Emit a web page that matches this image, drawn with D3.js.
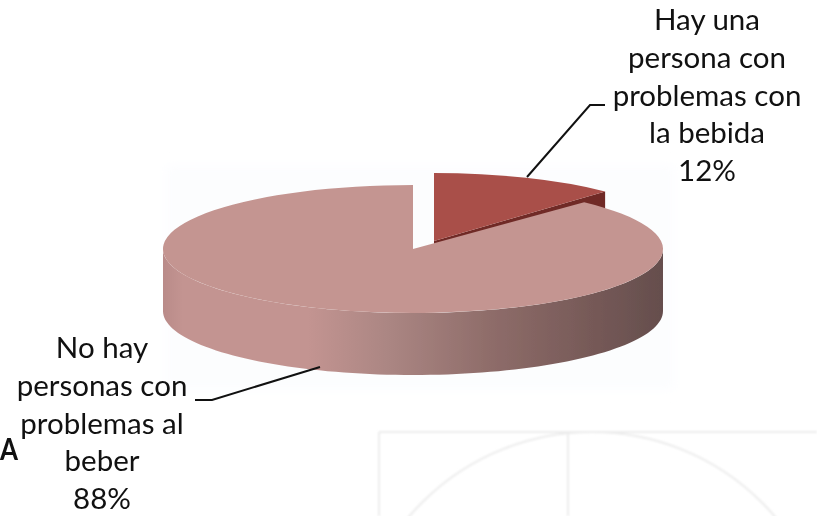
<!DOCTYPE html>
<html>
<head>
<meta charset="utf-8">
<script src="https://cdn.jsdelivr.net/npm/d3@7"></script>
<style>
html, body { margin: 0; padding: 0; background: #fff; }
svg { display: block; }
text { font-family: Lato, "Open Sans", sans-serif; fill: #111; }
</style>
</head>
<body>
<div id="chart"></div>
<script>
const categories = ["Hay una persona con problemas con la bebida", "No hay personas con problemas al beber"];
const values = [12, 88];
const labelLines = [
    ["Hay una", "persona con", "problemas con", "la bebida", "12%"],
    ["No hay", "personas con", "problemas al", "beber", "88%"]
];
const topColors = ["#a94f49", "#c49591"];
const wallColors = ["#6f2b27", "#c49591"];
// sombreado de la pared del sector grande, de izquierda a derecha
const wallStops = [
    [0, "#b98b89"], [0.04, "#c39491"], [0.29, "#c39491"], [0.45, "#ab8683"],
    [0.65, "#8f6d6a"], [0.85, "#775a58"], [1, "#654e4d"]
];

const width = 817, height = 516;
const rx = 250, depth = 62;
const centers = [
    { x: 434, y: 241, ry: 68 },
    { x: 413, y: 249, ry: 64 }
];

const svg = d3.select("#chart").append("svg")
    .attr("width", width)
    .attr("height", height);

const defs = svg.append("defs");
defs.append("filter").attr("id", "soft")
    .append("feGaussianBlur").attr("stdDeviation", 0.7);
defs.append("filter").attr("id", "softer")
    .append("feGaussianBlur").attr("stdDeviation", 1);
defs.append("filter").attr("id", "halo")
    .append("feGaussianBlur").attr("stdDeviation", 6);

// halo claro de la imagen pegada
svg.append("rect")
    .attr("x", 165).attr("y", 165)
    .attr("width", 510).attr("height", 225)
    .attr("fill", "#fcfdfe")
    .attr("filter", "url(#halo)");

// marca de agua de fondo
const wm = svg.append("g")
    .attr("fill", "none")
    .attr("stroke", "#ececec")
    .attr("stroke-width", 2)
    .attr("filter", "url(#softer)");
wm.append("line").attr("x1", 379).attr("y1", 432).attr("x2", width).attr("y2", 432);
wm.append("line").attr("x1", 379).attr("y1", 432).attr("x2", 379).attr("y2", height);
wm.append("line").attr("x1", 568).attr("y1", 432).attr("x2", 568).attr("y2", height);
wm.append("circle").attr("cx", 592).attr("cy", 672).attr("r", 240);

const grad = defs.append("linearGradient")
    .attr("id", "wall")
    .attr("gradientUnits", "userSpaceOnUse")
    .attr("x1", centers[1].x - rx).attr("x2", centers[1].x + rx)
    .attr("y1", 0).attr("y2", 0);
grad.selectAll("stop").data(wallStops).enter().append("stop")
    .attr("offset", d => d[0])
    .attr("stop-color", d => d[1]);

const slices = d3.pie().sort(null)(values);
const arc = d3.arc().innerRadius(0).outerRadius(rx);
const rimLine = d3.line();

// punto del borde de la elipse, ángulo en sentido horario desde las 12
const rimPoint = (a, c, dy) => [c.x + rx * Math.sin(a), c.y - c.ry * Math.cos(a) + dy];

const small = slices[0], big = slices[1];
const c0 = centers[0], c1 = centers[1];
const pie3d = svg.append("g").attr("filter", "url(#soft)");

// sector pequeño: primero su pared y luego la tapa
pie3d.append("path")
    .attr("d", rimLine([
        [c0.x, c0.y], rimPoint(small.endAngle, c0, 0), rimPoint(small.endAngle, c0, depth),
        [c0.x, c0.y + depth]
    ]) + "Z")
    .attr("fill", wallColors[0]);
pie3d.append("path")
    .attr("transform", `translate(${c0.x},${c0.y}) scale(1,${c0.ry / rx})`)
    .attr("d", arc(small))
    .attr("fill", topColors[0]);

// pared curva del sector grande (mitad inferior de la elipse)
const front = d3.range(90, 271, 2).map(d => d * Math.PI / 180);
pie3d.append("path")
    .attr("d", rimLine(front.map(a => rimPoint(a, c1, depth))
        .concat(front.slice().reverse().map(a => rimPoint(a, c1, 0)))) + "Z")
    .attr("fill", "url(#wall)");

pie3d.append("path")
    .attr("transform", `translate(${c1.x},${c1.y}) scale(1,${c1.ry / rx})`)
    .attr("d", arc(big))
    .attr("fill", topColors[1]);

// líneas guía
const leaders = [
    [[527, 177], [590, 105], [605, 105]],
    [[320, 367], [212, 400], [195, 400]]
];
svg.selectAll("path.leader").data(leaders).enter().append("path")
    .attr("class", "leader")
    .attr("d", d => rimLine(d))
    .attr("fill", "none")
    .attr("stroke", "#111")
    .attr("stroke-width", 2);

// etiquetas
const labelPos = [
    { x: 707, y: 30 },
    { x: 102, y: 358 }
];
const lineStep = 37.8;
labelLines.forEach((lines, i) => {
    svg.append("text")
        .attr("text-anchor", "middle")
        .attr("font-size", 29.5)
        .selectAll("tspan").data(lines).enter().append("tspan")
        .attr("x", labelPos[i].x)
        .attr("y", (d, j) => labelPos[i].y + j * lineStep)
        .text(d => d);
});

svg.append("text")
    .attr("x", 0).attr("y", 460)
    .attr("font-size", 30)
    .attr("font-weight", 700)
    .attr("textLength", 18)
    .attr("lengthAdjust", "spacingAndGlyphs")
    .text("A");
</script>
</body>
</html>
